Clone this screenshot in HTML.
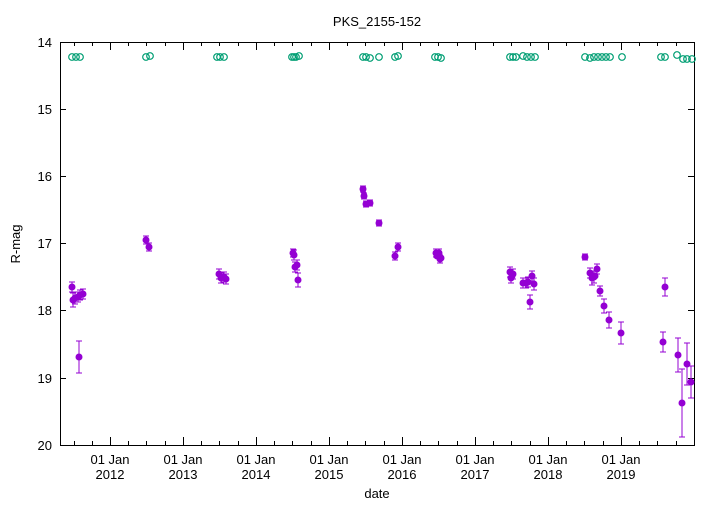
<!DOCTYPE html><html><head><style>body{margin:0;background:#fff}</style></head><body>
<svg width="720" height="504" xmlns="http://www.w3.org/2000/svg" font-family="Liberation Sans, sans-serif" font-size="13">
<rect width="720" height="504" fill="#fff"/>
<text x="377" y="26" text-anchor="middle">PKS_2155-152</text>
<g stroke="#000" stroke-width="1" fill="none">
<rect x="60.5" y="42.5" width="634" height="403"/>
<path d="M60 109.5h6M694 109.5h-6M60 176.5h6M694 176.5h-6M60 243.5h6M694 243.5h-6M60 310.5h6M694 310.5h-6M60 378.5h6M694 378.5h-6"/>
<path d="M110.5 445v-8M183.5 445v-8M256.5 445v-8M329.5 445v-8M402.5 445v-8M475.5 445v-8M548.5 445v-8M621.5 445v-8M110.5 42v8M183.5 42v8M256.5 42v8M329.5 42v8M402.5 42v8M475.5 42v8M548.5 42v8M621.5 42v8"/>
<path d="M74.5 445v-4M92.5 445v-4M128.5 445v-4M146.5 445v-4M165.5 445v-4M201.5 445v-4M219.5 445v-4M238.5 445v-4M274.5 445v-4M292.5 445v-4M311.5 445v-4M347.5 445v-4M365.5 445v-4M384.5 445v-4M420.5 445v-4M438.5 445v-4M457.5 445v-4M493.5 445v-4M511.5 445v-4M530.5 445v-4M566.5 445v-4M584.5 445v-4M603.5 445v-4M639.5 445v-4M657.5 445v-4M676.5 445v-4M74.5 42v4M92.5 42v4M128.5 42v4M146.5 42v4M165.5 42v4M201.5 42v4M219.5 42v4M238.5 42v4M274.5 42v4M292.5 42v4M311.5 42v4M347.5 42v4M365.5 42v4M384.5 42v4M420.5 42v4M438.5 42v4M457.5 42v4M493.5 42v4M511.5 42v4M530.5 42v4M566.5 42v4M584.5 42v4M603.5 42v4M639.5 42v4M657.5 42v4M676.5 42v4"/>
</g>
<g text-anchor="end"><text x="52" y="47">14</text><text x="52" y="114">15</text><text x="52" y="181">16</text><text x="52" y="248">17</text><text x="52" y="315">18</text><text x="52" y="383">19</text><text x="52" y="450">20</text></g>
<g text-anchor="middle">
<text x="110" y="464">01 Jan</text><text x="110" y="479">2012</text>
<text x="183" y="464">01 Jan</text><text x="183" y="479">2013</text>
<text x="256" y="464">01 Jan</text><text x="256" y="479">2014</text>
<text x="329" y="464">01 Jan</text><text x="329" y="479">2015</text>
<text x="402" y="464">01 Jan</text><text x="402" y="479">2016</text>
<text x="475" y="464">01 Jan</text><text x="475" y="479">2017</text>
<text x="548" y="464">01 Jan</text><text x="548" y="479">2018</text>
<text x="621" y="464">01 Jan</text><text x="621" y="479">2019</text>
<text x="377" y="498">date</text>
<text transform="translate(20,244) rotate(-90)">R-mag</text>
</g>
<g stroke="#009e73" fill="none" stroke-width="1.2">
<circle cx="72" cy="57" r="3.3"/><circle cx="76" cy="57" r="3.3"/><circle cx="80" cy="57" r="3.3"/>
<circle cx="146" cy="57" r="3.3"/><circle cx="150" cy="56" r="3.3"/>
<circle cx="217" cy="57" r="3.3"/><circle cx="220" cy="57" r="3.3"/><circle cx="224" cy="57" r="3.3"/>
<circle cx="292" cy="57" r="3.3"/><circle cx="294" cy="57" r="3.3"/><circle cx="296" cy="57" r="3.3"/><circle cx="299" cy="56" r="3.3"/>
<circle cx="363" cy="57" r="3.3"/><circle cx="366" cy="57" r="3.3"/><circle cx="370" cy="58" r="3.3"/><circle cx="379" cy="57" r="3.3"/><circle cx="395" cy="57" r="3.3"/><circle cx="398" cy="56" r="3.3"/>
<circle cx="435" cy="57" r="3.3"/><circle cx="438" cy="57" r="3.3"/><circle cx="441" cy="58" r="3.3"/>
<circle cx="510" cy="57" r="3.3"/><circle cx="513" cy="57" r="3.3"/><circle cx="516" cy="57" r="3.3"/><circle cx="523" cy="56" r="3.3"/><circle cx="527" cy="57" r="3.3"/><circle cx="531" cy="57" r="3.3"/><circle cx="535" cy="57" r="3.3"/>
<circle cx="585" cy="57" r="3.3"/><circle cx="590" cy="58" r="3.3"/><circle cx="594" cy="57" r="3.3"/><circle cx="598" cy="57" r="3.3"/><circle cx="602" cy="57" r="3.3"/><circle cx="606" cy="57" r="3.3"/><circle cx="610" cy="57" r="3.3"/><circle cx="622" cy="57" r="3.3"/>
<circle cx="661" cy="57" r="3.3"/><circle cx="665" cy="57" r="3.3"/><circle cx="677" cy="55" r="3.3"/><circle cx="683" cy="59" r="3.3"/><circle cx="687" cy="59" r="3.3"/><circle cx="692" cy="59" r="3.3"/>
</g>
<path stroke="#9400d3" fill="none" stroke-width="1" d="M72 282v10M69 282h6M69 292h6M73 293v14M70 293h6M70 307h6M75 292v12M72 292h6M72 304h6M78 292v10M75 292h6M75 302h6M80 290v10M77 290h6M77 300h6M83 289v10M80 289h6M80 299h6M79 341v32M76 341h6M76 373h6M146 236v8M143 236h6M143 244h6M149 243v8M146 243h6M146 251h6M219 269v10M216 269h6M216 279h6M221 273v10M218 273h6M218 283h6M224 272v10M221 272h6M221 282h6M226 274v10M223 274h6M223 284h6M293 249v8M290 249h6M290 257h6M294 250v10M291 250h6M291 260h6M295 262v10M292 262h6M292 272h6M297 260v10M294 260h6M294 270h6M298 273v14M295 273h6M295 287h6M363 186v6M360 186h6M360 192h6M364 193v6M361 193h6M361 199h6M366 201v6M363 201h6M363 207h6M370 200v6M367 200h6M367 206h6M379 220v6M376 220h6M376 226h6M395 252v8M392 252h6M392 260h6M398 243v8M395 243h6M395 251h6M436 249v8M433 249h6M433 257h6M439 249v8M436 249h6M436 257h6M440 255v8M437 255h6M437 263h6M510 267v10M507 267h6M507 277h6M511 273v10M508 273h6M508 283h6M513 269v10M510 269h6M510 279h6M523 278v10M520 278h6M520 288h6M526 278v10M523 278h6M523 288h6M528 277v10M525 277h6M525 287h6M530 295v14M527 295h6M527 309h6M532 271v10M529 271h6M529 281h6M534 278v12M531 278h6M531 290h6M585 254v6M582 254h6M582 260h6M590 268v10M587 268h6M587 278h6M592 271v14M589 271h6M589 285h6M594 271v12M591 271h6M591 283h6M597 264v10M594 264h6M594 274h6M600 286v10M597 286h6M597 296h6M604 299v14M601 299h6M601 313h6M609 312v16M606 312h6M606 328h6M621 322v22M618 322h6M618 344h6M663 332v20M660 332h6M660 352h6M665 278v18M662 278h6M662 296h6M678 338v34M675 338h6M675 372h6M682 369v68M679 369h6M679 437h6M687 343v42M684 343h6M684 385h6M691 366v32M688 366h6M688 398h6"/>
<g fill="#9400d3">
<circle cx="72" cy="287" r="3.5"/><circle cx="73" cy="300" r="3.5"/><circle cx="75" cy="298" r="3.5"/><circle cx="78" cy="297" r="3.5"/><circle cx="80" cy="295" r="3.5"/><circle cx="83" cy="294" r="3.5"/><circle cx="79" cy="357" r="3.5"/>
<circle cx="146" cy="240" r="3.5"/><circle cx="149" cy="247" r="3.5"/>
<circle cx="219" cy="274" r="3.5"/><circle cx="221" cy="278" r="3.5"/><circle cx="224" cy="277" r="3.5"/><circle cx="226" cy="279" r="3.5"/>
<circle cx="293" cy="253" r="3.5"/><circle cx="294" cy="255" r="3.5"/><circle cx="295" cy="267" r="3.5"/><circle cx="297" cy="265" r="3.5"/><circle cx="298" cy="280" r="3.5"/>
<circle cx="363" cy="189" r="3.5"/><circle cx="364" cy="196" r="3.5"/><circle cx="366" cy="204" r="3.5"/><circle cx="370" cy="203" r="3.5"/><circle cx="379" cy="223" r="3.5"/><circle cx="395" cy="256" r="3.5"/><circle cx="398" cy="247" r="3.5"/>
<circle cx="436" cy="253" r="3.5"/><circle cx="437" cy="256" r="3.5"/><circle cx="439" cy="253" r="3.5"/><circle cx="440" cy="259" r="3.5"/><circle cx="441" cy="258" r="3.5"/>
<circle cx="510" cy="272" r="3.5"/><circle cx="511" cy="278" r="3.5"/><circle cx="512" cy="276" r="3.5"/><circle cx="513" cy="274" r="3.5"/><circle cx="523" cy="283" r="3.5"/><circle cx="526" cy="283" r="3.5"/><circle cx="528" cy="282" r="3.5"/><circle cx="530" cy="302" r="3.5"/><circle cx="532" cy="276" r="3.5"/><circle cx="534" cy="284" r="3.5"/>
<circle cx="585" cy="257" r="3.5"/><circle cx="590" cy="273" r="3.5"/><circle cx="592" cy="278" r="3.5"/><circle cx="594" cy="277" r="3.5"/><circle cx="595" cy="276" r="3.5"/><circle cx="597" cy="269" r="3.5"/><circle cx="600" cy="291" r="3.5"/><circle cx="604" cy="306" r="3.5"/><circle cx="609" cy="320" r="3.5"/><circle cx="621" cy="333" r="3.5"/>
<circle cx="663" cy="342" r="3.5"/><circle cx="665" cy="287" r="3.5"/><circle cx="678" cy="355" r="3.5"/><circle cx="682" cy="403" r="3.5"/><circle cx="687" cy="364" r="3.5"/><circle cx="691" cy="382" r="3.5"/>
</g>
</svg></body></html>
